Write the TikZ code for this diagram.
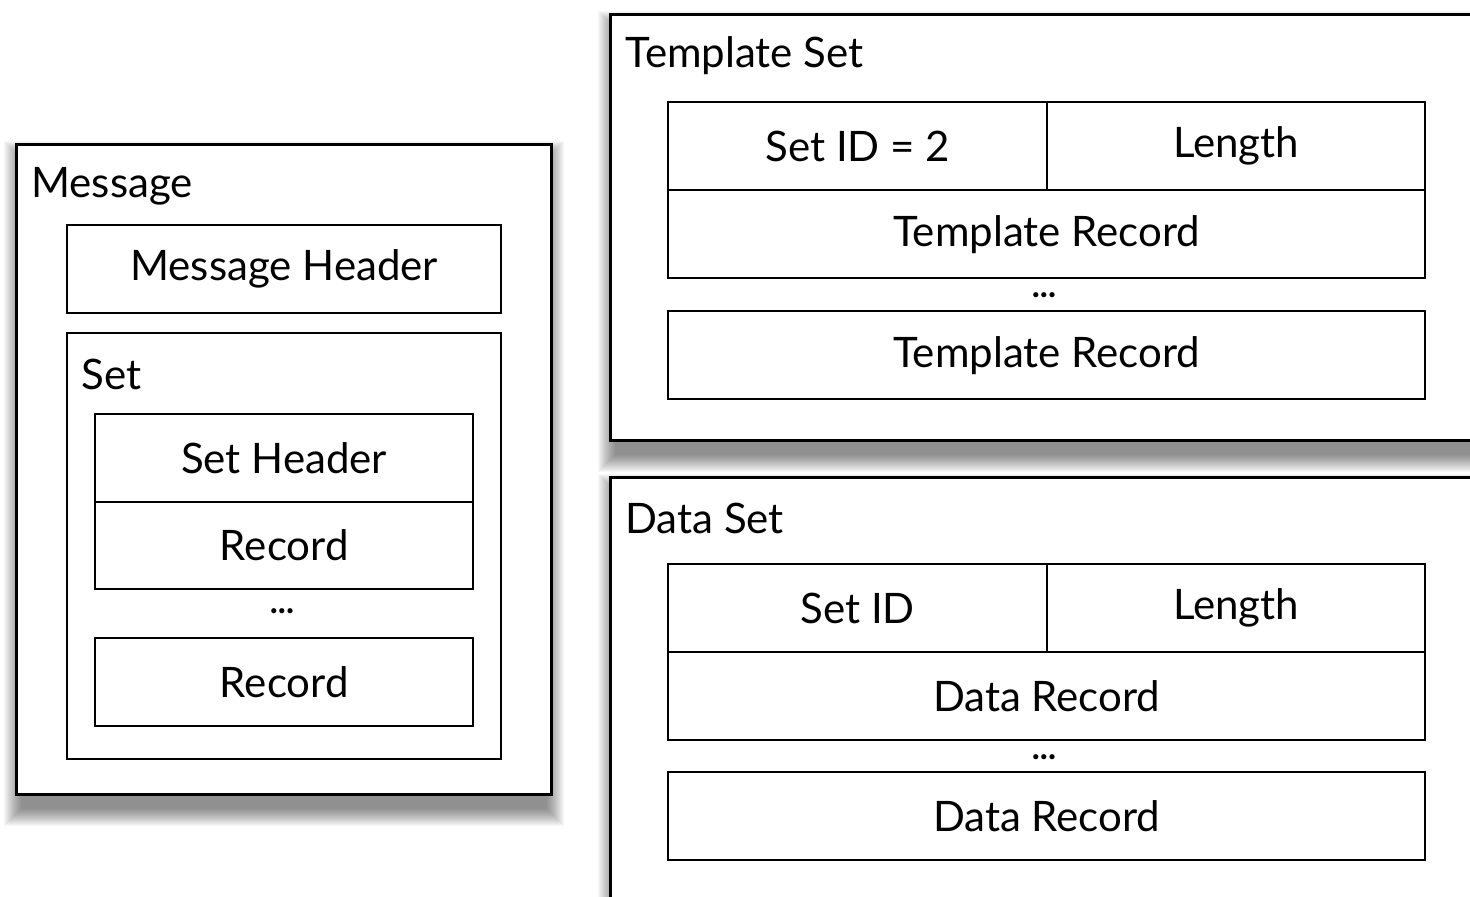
\documentclass[tikz,border=0pt]{standalone}
\usepackage{fontspec}
\setmainfont{Lato}
\usetikzlibrary{positioning,calc,backgrounds}
\tikzset{
  outerbox/.style={draw=black, line width=1.5pt, fill=white, rectangle, inner sep=0pt, anchor=north west},
  cell/.style={draw=black, line width=1.2pt, fill=white, rectangle, inner sep=0pt, anchor=north west,
    font=\fontsize{21}{25}\selectfont},
  lbl/.style={anchor=west, inner sep=0pt, font=\fontsize{21}{25}\selectfont},
  dots/.style={anchor=base, inner sep=0pt, font=\fontsize{17}{19}\selectfont\bfseries},
}
\newcommand{\softshadow}[1]{%
  \foreach \i in {0,...,17}{%
    \fill[black, fill opacity=0.03]
      ($(#1.north west)+(-11+\i,-2+\i)$) rectangle ($(#1.south east)+(11-\i,30-\i)$);
  }%
}
\begin{document}
\begin{tikzpicture}[x=0.5pt, y=-0.5pt]
\useasboundingbox (0,0) rectangle (1470,896);

% Message
\node (msg) [outerbox, minimum width=267.5pt, minimum height=325pt] at (15,143) {};
\node (msglbl) [lbl] at (31,186) {Message};
\node (mh) [cell, minimum width=217pt, minimum height=44pt] at (66,224) {Message Header};
\node (set) [cell, minimum width=217pt, minimum height=213pt] at (66,332) {};
\node (setlbl) [lbl] at (81,374) {Set};
\node (sh) [cell, minimum width=189pt, minimum height=43.75pt] at (94,413) {Set Header};
\node (r1) [cell, minimum width=189pt, minimum height=43.75pt] at (94,500.5) {Record};
\node (d1) [dots] at (282,613) {...};
\node (r2) [cell, minimum width=189pt, minimum height=44pt] at (94,637) {Record};

% Template Set
\node (ts) [outerbox, minimum width=445pt, minimum height=213pt] at (609,13) {};
\node (tslbl) [lbl] at (625,56) {Template Set};
\node (tid) [cell, minimum width=189.5pt, minimum height=44pt] at (667,101) {Set ID = 2};
\node (tlen) [cell, minimum width=189pt, minimum height=44pt] at (1046,101) {Length};
\node (tr1) [cell, minimum width=378.5pt, minimum height=44pt] at (667,189) {Template Record};
\node (d2) [dots] at (1044,297) {...};
\node (tr2) [cell, minimum width=378.5pt, minimum height=44pt] at (667,310) {Template Record};

% Data Set
\node (ds) [outerbox, minimum width=445pt, minimum height=230pt] at (609,476) {};
\node (dslbl) [lbl] at (625,518) {Data Set};
\node (did) [cell, minimum width=189.5pt, minimum height=44pt] at (667,563) {Set ID};
\node (dlen) [cell, minimum width=189pt, minimum height=44pt] at (1046,563) {Length};
\node (dr1) [cell, minimum width=378.5pt, minimum height=44pt] at (667,651) {Data Record};
\node (d3) [dots] at (1044,759) {...};
\node (dr2) [cell, minimum width=378.5pt, minimum height=44pt] at (667,771) {Data Record};

\begin{scope}[on background layer]
  \softshadow{msg}
  \softshadow{ts}
  \softshadow{ds}
\end{scope}
\end{tikzpicture}
\end{document}
